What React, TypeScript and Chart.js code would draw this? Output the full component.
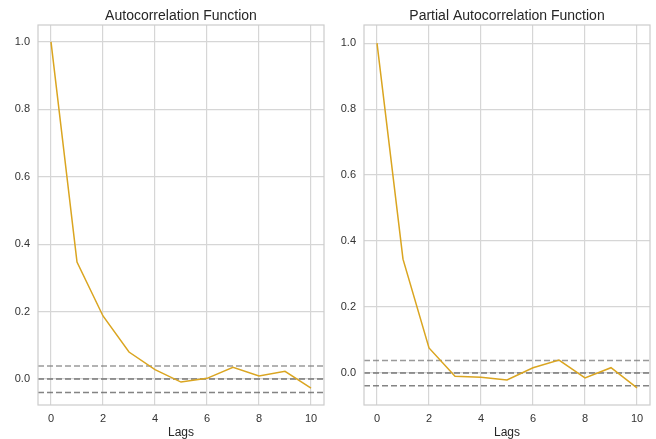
import React, { useEffect, useRef } from "react";
import { Chart, registerables } from "chart.js";

Chart.register(...registerables);

const lags = [0, 1, 2, 3, 4, 5, 6, 7, 8, 9, 10];
const acfValues = [1.0, 0.347, 0.187, 0.08, 0.028, -0.009, 0.002, 0.035, 0.009, 0.023, -0.027];
const pacfValues = [1.0, 0.345, 0.076, -0.01, -0.013, -0.021, 0.016, 0.039, -0.015, 0.016, -0.045];
const acfConf = [0.039, -0.04];
const pacfConf = [0.038, -0.039];
const xTicks = [0, 2, 4, 6, 8, 10];
const yTicks = [0, 0.2, 0.4, 0.6, 0.8, 1.0];
const acfRange = [-0.077, 1.05];
const pacfRange = [-0.097, 1.055];

const FONT = "'Liberation Sans', Arial, sans-serif";

function makeConfig(title: string, values: number[], conf: number[], range: number[], padRight: number) {
  const line = lags.map((l, i) => ({ x: l, y: values[i] }));
  const hline = (v: number) => [
    { x: -0.5, y: v },
    { x: 10.5, y: v },
  ];
  const titlePlugin = {
    id: "boxTitle",
    afterDraw(chart: any) {
      const { ctx, chartArea } = chart;
      ctx.save();
      ctx.strokeStyle = "#cccccc";
      ctx.lineWidth = 1.2;
      ctx.strokeRect(chartArea.left, chartArea.top, chartArea.right - chartArea.left, chartArea.bottom - chartArea.top);
      ctx.fillStyle = "#262626";
      ctx.font = `14px ${FONT}`;
      ctx.textAlign = "center";
      ctx.textBaseline = "middle";
      ctx.fillText(title, (chartArea.left + chartArea.right) / 2, 16);
      ctx.restore();
    },
  };
  return {
    type: "line" as const,
    data: {
      datasets: [
        {
          data: hline(conf[0]),
          borderColor: "rgba(120,120,120,0.75)",
          borderWidth: 1.5,
          borderDash: [6, 3],
          pointRadius: 0,
          order: 2,
        },
        {
          data: hline(0),
          borderColor: "rgba(100,100,100,0.85)",
          borderWidth: 1.5,
          borderDash: [6, 3],
          pointRadius: 0,
          order: 2,
        },
        {
          data: hline(conf[1]),
          borderColor: "rgba(110,110,110,0.85)",
          borderWidth: 1.5,
          borderDash: [6, 3],
          pointRadius: 0,
          order: 2,
        },
        {
          data: line,
          borderColor: "#DAA520",
          borderWidth: 1.5,
          pointRadius: 0,
          tension: 0,
          order: 1,
        },
      ],
    },
    options: {
      animation: false,
      responsive: false,
      maintainAspectRatio: false,
      parsing: true,
      layout: { padding: { top: 25, right: padRight, left: 0, bottom: 0 } },
      plugins: { legend: { display: false }, tooltip: { enabled: false }, title: { display: false } },
      scales: {
        x: {
          type: "linear",
          min: -0.5,
          max: 10.5,
          afterBuildTicks(scale: any) {
            scale.ticks = xTicks.map((v) => ({ value: v }));
          },
          afterFit(scale: any) {
            scale.height = 34;
          },
          grid: { color: "#d6d6d6", lineWidth: 1.2, drawTicks: false },
          border: { display: false },
          ticks: {
            color: "#333333",
            font: { family: FONT, size: 11 },
            padding: 7,
            maxRotation: 0,
            callback: (v: any) => String(v),
          },
          title: {
            display: true,
            text: "Lags",
            color: "#262626",
            font: { family: FONT, size: 12, lineHeight: 1 },
            padding: { top: 0, bottom: 0 },
          },
        },
        y: {
          type: "linear",
          min: range[0],
          max: range[1],
          afterBuildTicks(scale: any) {
            scale.ticks = yTicks.map((v) => ({ value: v }));
          },
          afterFit(scale: any) {
            scale.width = 38;
          },
          grid: { color: "#d6d6d6", lineWidth: 1.2, drawTicks: false },
          border: { display: false },
          ticks: {
            color: "#333333",
            font: { family: FONT, size: 11 },
            padding: 8,
            callback: (v: any) => Number(v).toFixed(1),
          },
        },
      },
    },
    plugins: [titlePlugin],
  };
}

function ChartCanvas(props: { left: number; width: number; title: string; values: number[]; conf: number[]; range: number[]; padRight: number }) {
  const ref = useRef<HTMLCanvasElement>(null);
  useEffect(() => {
    const chart = new Chart(ref.current as HTMLCanvasElement, makeConfig(props.title, props.values, props.conf, props.range, props.padRight) as any);
    return () => chart.destroy();
  }, []);
  return (
    <canvas
      ref={ref}
      width={props.width}
      height={439}
      style={{ position: "absolute", left: props.left, top: 0, width: props.width, height: 439 }}
    />
  );
}

export default function App() {
  return (
    <div style={{ position: "fixed", left: 0, top: 0, width: 656, height: 439, background: "#ffffff" }}>
      <ChartCanvas left={0} width={326} title="Autocorrelation Function" values={acfValues} conf={acfConf} range={acfRange} padRight={2} />
      <ChartCanvas left={326} width={330} title="Partial Autocorrelation Function" values={pacfValues} conf={pacfConf} range={pacfRange} padRight={6} />
    </div>
  );
}
